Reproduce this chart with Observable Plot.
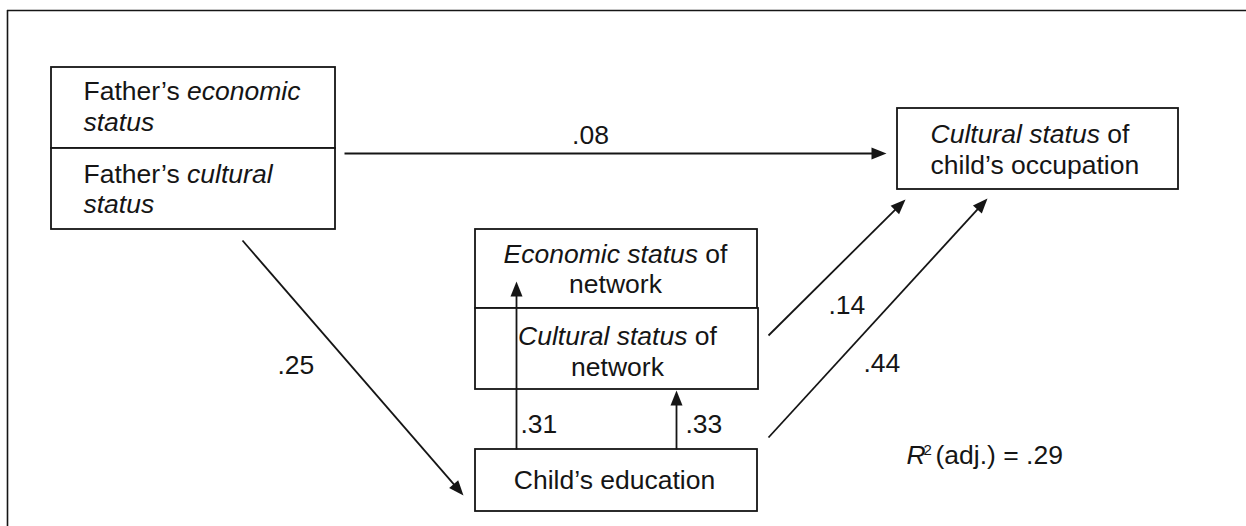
<!DOCTYPE html>
<html><head><meta charset="utf-8">
<script src="https://cdn.jsdelivr.net/npm/d3@7"></script>
<script src="https://cdn.jsdelivr.net/npm/@observablehq/plot@0.6"></script>
<style>html,body{margin:0;padding:0;background:#fff;} svg{display:block}</style>
</head><body><div id="chart"></div>
<script>
// ---------------- data ----------------
const boxIds = ["fatherEconomic", "fatherCultural", "networkEconomic", "networkCultural", "childEducation", "childOccupation"];
const boxLabels = [
  ["Father’s *economic*", "*status*"],
  ["Father’s *cultural*", "*status*"],
  ["*Economic status* of", "network"],
  ["*Cultural status* of", "network"],
  ["Child’s education"],
  ["*Cultural status* of", "child’s occupation"]
];
const pathFrom = ["fatherCultural", "fatherCultural", "childEducation", "childEducation", "networkCultural", "childEducation"];
const pathTo = ["childOccupation", "childEducation", "networkEconomic", "networkCultural", "childOccupation", "childOccupation"];
const pathCoefficients = [0.08, 0.25, 0.31, 0.33, 0.14, 0.44];
const rSquaredAdj = 0.29;

// ---------------- layout (diagram coordinates) ----------------
const W = 1246, H = 526;
const boxLayout = {
  fatherEconomic:  {x1: 51,  x2: 335,  y1: 67,  y2: 148, tx: 83,  anchor: "start",  baselines: [99, 130]},
  fatherCultural:  {x1: 51,  x2: 335,  y1: 148, y2: 229, tx: 83,  anchor: "start",  baselines: [182, 212]},
  networkEconomic: {x1: 475, x2: 757,  y1: 229, y2: 308, tx: 615, anchor: "middle", baselines: [262, 292]},
  networkCultural: {x1: 475, x2: 758,  y1: 308, y2: 389, tx: 617, anchor: "middle", baselines: [344, 375]},
  childEducation:  {x1: 475, x2: 757,  y1: 449, y2: 511, tx: 614, anchor: "middle", baselines: [488]},
  childOccupation: {x1: 897, x2: 1178, y1: 108, y2: 189, tx: 930, anchor: "start",  baselines: [142, 173]}
};
const pathLayout = [
  {x1: 344, y1: 153, x2: 886, y2: 153, lx: 590, ly: 143, anchor: "middle"},
  {x1: 242, y1: 240, x2: 463, y2: 495, lx: 277, ly: 373, anchor: "start"},
  {x1: 516, y1: 449, x2: 516, y2: 281, lx: 520, ly: 432, anchor: "start"},
  {x1: 676, y1: 449, x2: 676, y2: 390, lx: 685, ly: 432, anchor: "start"},
  {x1: 768, y1: 335, x2: 905, y2: 199, lx: 828, ly: 313, anchor: "start"},
  {x1: 768, y1: 437, x2: 987, y2: 198, lx: 863, ly: 371, anchor: "start"}
];

// ---------------- derived tables ----------------
const fmt = v => d3.format(".2f")(v).replace(/^0/, "");
const boxes = boxIds.map((id, i) => ({id, ...boxLayout[id], lines: boxLabels[i]}));
const boxText = boxes.flatMap(b => b.lines.map((t, j) => ({text: t, x: b.tx, y: b.baselines[j], anchor: b.anchor})));
const paths = pathCoefficients.map((c, i) => {
  const L = pathLayout[i];
  const dx = L.x2 - L.x1, dy = L.y2 - L.y1, len = Math.hypot(dx, dy);
  return {from: pathFrom[i], to: pathTo[i], label: fmt(c), ...L,
    ex: L.x2 - dx / len * 9, ey: L.y2 - dy / len * 9,
    angle: Math.atan2(dy, dx) * 180 / Math.PI + 90};
});
const arrowHead = {draw(ctx) { ctx.moveTo(0, 0); ctx.lineTo(6, 15); ctx.lineTo(-6, 15); ctx.closePath(); }};
const ink = "#151515";
const font = "'Liberation Sans', Arial, Helvetica, sans-serif";
const txt = (data, anchor, extra = {}) => Plot.text(data.filter(d => d.anchor === anchor),
  {x: "x", y: "y", text: "text", textAnchor: anchor, lineAnchor: "bottom", fontSize: 26.5, fill: ink, ...extra});

const labels = paths.map(p => ({text: p.label, x: p.lx, y: p.ly, anchor: p.anchor}));
const r2Text = [
  {text: "*R*", x: 906, y: 463, anchor: "start"},
  {text: `(adj.) = ${fmt(rSquaredAdj)}`, x: 935, y: 463, anchor: "start"}
];
const r2Sup = [{text: "2", x: 923, y: 454, anchor: "start"}];

const svg = Plot.plot({
  width: W, height: H, margin: 0,
  x: {domain: [0, W], range: [0, W], axis: null},
  y: {domain: [0, H], range: [0, H], axis: null},
  style: {fontFamily: font, background: "#fff", color: ink},
  marks: [
    Plot.ruleY([10], {x1: 7, x2: W, stroke: ink, strokeWidth: 1.6}),
    Plot.ruleX([7], {y1: 10, y2: H, stroke: ink, strokeWidth: 1.6}),
    Plot.rect(boxes, {x1: "x1", x2: "x2", y1: "y1", y2: "y2", fill: "#fff", stroke: ink, strokeWidth: 1.8}),
    txt(boxText, "start"),
    txt(boxText, "middle"),
    Plot.link(paths, {x1: "x1", y1: "y1", x2: "ex", y2: "ey", stroke: ink, strokeWidth: 1.8}),
    Plot.dot(paths, {x: "x2", y: "y2", symbol: arrowHead, rotate: "angle", fill: ink, stroke: "none"}),
    txt(labels, "start"),
    txt(labels, "middle"),
    txt(r2Text, "start"),
    txt(r2Sup, "start", {fontSize: 15})
  ]
});

// render *...* segments in italics
svg.querySelectorAll("text").forEach(t => {
  const s = t.textContent;
  if (!s.includes("*")) return;
  while (t.firstChild) t.removeChild(t.firstChild);
  s.split("*").forEach((part, i) => {
    if (!part) return;
    const ts = document.createElementNS("http://www.w3.org/2000/svg", "tspan");
    ts.textContent = part;
    if (i % 2 === 1) ts.setAttribute("font-style", "italic");
    t.appendChild(ts);
  });
});
document.getElementById("chart").appendChild(svg);
</script>
</body></html>
